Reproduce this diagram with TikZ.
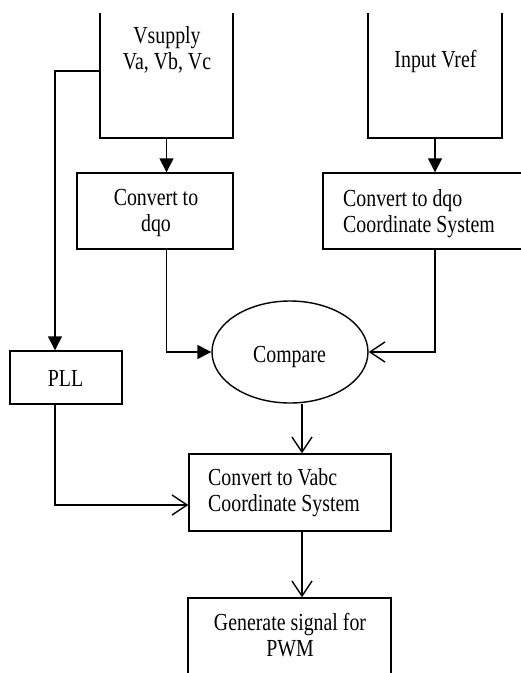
\documentclass[tikz,border=0pt]{standalone}
\usepackage{fontspec}
\setmainfont{Liberation Serif}
\newfontfamily\tnr[FakeStretch=0.81]{Liberation Serif}
\usetikzlibrary{arrows.meta,shapes.geometric,calc}
\newcommand\twolc[2]{\begin{tabular}[t]{@{}c@{}}#1\\#2\end{tabular}}
\newcommand\twoll[2]{\begin{tabular}[t]{@{}l@{}}#1\\#2\end{tabular}}
\begin{document}
\begin{tikzpicture}[x=1pt,y=-1pt,
  box/.style={draw,line width=1.4pt,inner sep=0pt},
  txt/.style={inner sep=0pt,font=\tnr\fontsize{24.5}{26}\selectfont,text=black},
  farrow/.style={line width=1.4pt,-{Triangle[length=14pt,width=14pt]}},
  oarrow/.style={line width=1.4pt,-{Straight Barb[length=15pt,width=20pt]}}]
\useasboundingbox (0,0) rectangle (521,673);
\clip (0,13) rectangle (521,673);
% boxes
\node[box,minimum width=133pt,minimum height=179pt] (vs) at (166.5,48.5) {};
\node[box,minimum width=134pt,minimum height=158pt] (ir) at (435,59) {};
\node[box,minimum width=156pt,minimum height=76pt] (c1) at (155,211) {};
\node[box,minimum width=237pt,minimum height=76pt] (c2) at (441.5,211) {};
\node[box,ellipse,minimum width=156pt,minimum height=102pt] (cmp) at (290,352) {};
\node[box,minimum width=112pt,minimum height=53pt] (pll) at (66,377.5) {};
\node[box,minimum width=202pt,minimum height=77pt] (cv) at (290,492.5) {};
\node[box,minimum width=203pt,minimum height=122pt] (gen) at (289.5,659) {};
% texts
\node[txt,anchor=base] (tvs) at (167,43) {\twolc{Vsupply}{Va, Vb, Vc}};
\node[txt,anchor=base] (tir) at (435.5,67) {Input Vref};
\node[txt,anchor=base] (tc1) at (156,205) {\twolc{Convert to}{dqo}};
\node[txt,anchor=base west] (tc2) at (343,206) {\twoll{Convert to dqo}{Coordinate System}};
\node[txt,anchor=base] (tcmp) at (289.5,362) {Compare};
\node[txt,anchor=base] (tpll) at (65.5,386) {PLL};
\node[txt,anchor=base west] (tcv) at (208,485) {\twoll{Convert to Vabc}{Coordinate System}};
\node[txt,anchor=base] (tgen) at (290,630) {\twolc{Generate signal for}{PWM}};
% connectors
\draw[farrow] (vs.west |- 0,71) -| ([xshift=-11pt]pll.north);
\draw[farrow] (vs.south) -- (vs.south |- c1.north);
\draw[farrow] (ir.south) -- (ir.south |- c2.north);
\draw[farrow] (c1.south -| vs.south) |- (cmp.west);
\draw[oarrow] (c2.south -| ir.south) |- (cmp.east);
\draw[oarrow] ([xshift=12pt]cmp.south) -- ([xshift=12pt]cmp.south |- cv.north);
\draw[oarrow] ([xshift=-11pt]pll.south) |- ([yshift=-12.5pt]cv.west);
\draw[oarrow] ([xshift=12pt]cv.south) -- ([xshift=12pt]cv.south |- gen.north);
\end{tikzpicture}
\end{document}
